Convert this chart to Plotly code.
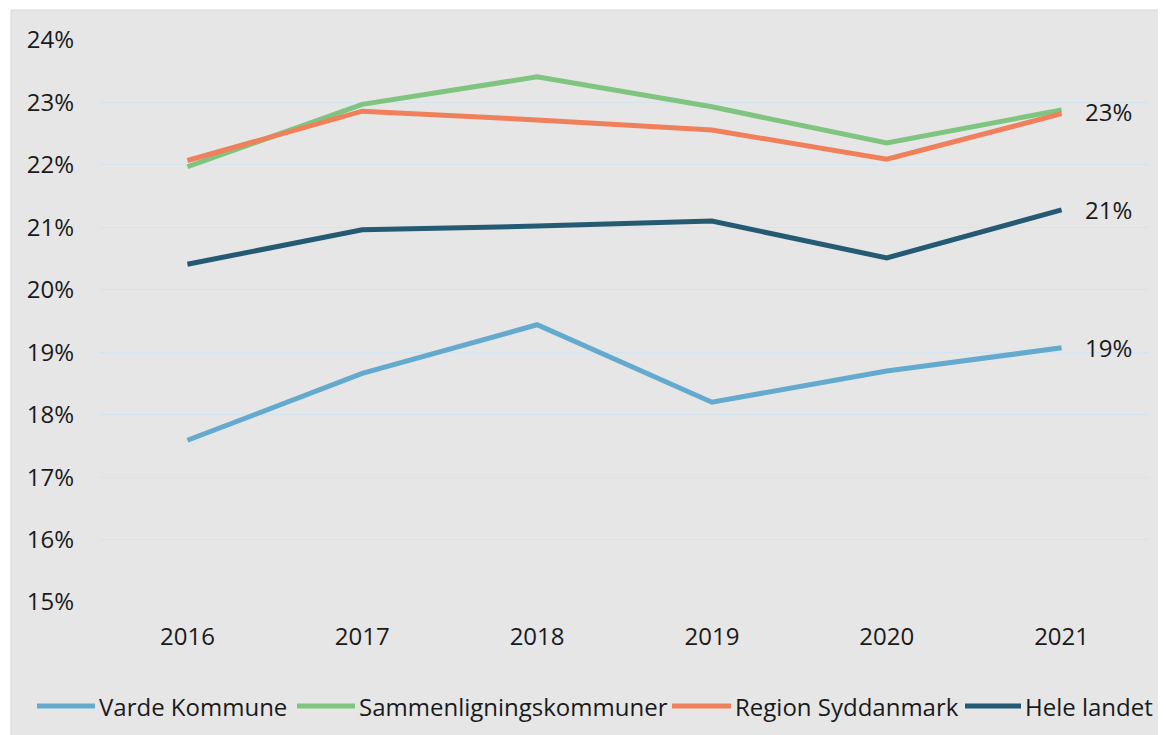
import plotly.graph_objects as go

years = ["2016", "2017", "2018", "2019", "2020", "2021"]
varde = [17.59, 18.66, 19.44, 18.20, 18.70, 19.07]
sammen = [21.97, 22.97, 23.41, 22.93, 22.35, 22.88]
region = [22.07, 22.86, 22.72, 22.56, 22.09, 22.82]
hele = [20.41, 20.96, 21.02, 21.10, 20.51, 21.28]
names = ["Varde Kommune", "Sammenligningskommuner", "Region Syddanmark", "Hele landet"]
colors = ["#64aace", "#7fc47f", "#ef805b", "#255a73"]
yticks = list(range(15, 25))
end_labels = [("19%", varde[-1]), ("23%", (sammen[-1] + region[-1]) / 2), ("21%", hele[-1])]

OFF = 8  # browser body margin
W, H = 1166 - OFF, 735 - OFF
L, T = 100 - OFF, 40 - OFF
R = W - (1149 - OFF)
B = H - (602 - OFF)
pw = W - L - R
ph = H - T - B


def px_x(p):
    return (p - OFF - L) / pw


def px_y(p):
    return 1 - (p - OFF - T) / ph


fig = go.Figure()
for n, s, c in zip(names, [varde, sammen, region, hele], colors):
    fig.add_trace(go.Scatter(x=years, y=s, name=n, mode="lines",
                             line=dict(color=c, width=5), showlegend=False))

last_idx = len(years) - 1
for txt, v in end_labels:
    fig.add_annotation(xref="x", yref="y", x=last_idx, y=v, text=txt, showarrow=False,
                       xanchor="left", yanchor="middle", xshift=21,
                       font=dict(size=24, color="#1a1a1a"))

# white outer border strips and thin frame
fig.add_shape(type="rect", xref="paper", yref="paper", x0=px_x(0), x1=px_x(1166), y0=px_y(0), y1=px_y(10),
              fillcolor="white", line_width=0, layer="below")
fig.add_shape(type="rect", xref="paper", yref="paper", x0=px_x(0), x1=px_x(11), y0=px_y(0), y1=px_y(735),
              fillcolor="white", line_width=0, layer="below")
fig.add_shape(type="rect", xref="paper", yref="paper", x0=px_x(11), x1=px_x(1170), y0=px_y(10), y1=px_y(740),
              fillcolor="rgba(0,0,0,0)", line=dict(color="#d8d8d8", width=1), layer="below")

# legend drawn as line samples + labels
leg_line_x = [37, 297, 672, 965]
leg_text_x = [97, 357, 733, 1023]
leg_y = 706
for n, c, lx, tx in zip(names, colors, leg_line_x, leg_text_x):
    fig.add_shape(type="line", xref="paper", yref="paper", x0=px_x(lx), x1=px_x(tx - 2),
                  y0=px_y(leg_y), y1=px_y(leg_y), line=dict(color=c, width=5))
    fig.add_annotation(xref="paper", yref="paper", x=px_x(tx), y=px_y(leg_y), text=n,
                       showarrow=False, xanchor="left", yanchor="middle",
                       font=dict(size=24, color="#1a1a1a"))

fig.update_layout(
    width=W, height=H,
    margin=dict(l=L, r=R, t=T, b=B),
    paper_bgcolor="#e6e6e6", plot_bgcolor="#e6e6e6",
    font=dict(family="Open Sans", size=24, color="#1a1a1a"),
    showlegend=False,
    xaxis=dict(type="category", range=[-0.5, 5.5], showgrid=False, zeroline=False,
               showline=False, ticks="", ticklabelstandoff=18, fixedrange=True),
    yaxis=dict(range=[15, 24], tickvals=yticks, ticktext=[f"{v}%" for v in yticks],
               showgrid=True, gridcolor="#d3e3ef", gridwidth=1, zeroline=False,
               showline=False, ticks="", ticklabelstandoff=25, fixedrange=True),
)
fig.write_html("out.html")
